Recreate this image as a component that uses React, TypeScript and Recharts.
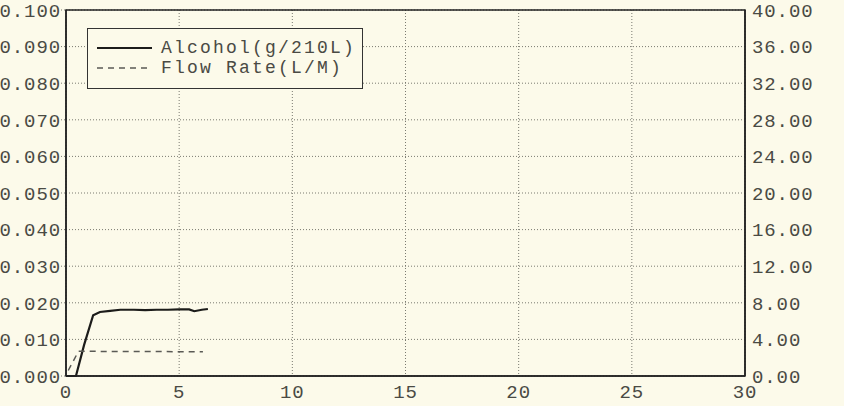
import React from 'react';
import { LineChart, Line, XAxis, YAxis, CartesianGrid, ReferenceArea, Legend } from 'recharts';

const alcoholX = [0, 0.44, 0.8, 1.2, 1.5, 1.95, 2.4, 3.0, 3.5, 4.0, 4.5, 5.0, 5.44, 5.67, 6.0, 6.27];
const alcoholY = [0, 0, 0.0085, 0.0166, 0.0175, 0.0178, 0.0181, 0.0181, 0.018, 0.0181, 0.0181, 0.0182, 0.0182, 0.0177, 0.0181, 0.0183];
const flowX = [0.1, 0.55, 6.05];
const flowY = [0.6, 2.7, 2.65];
const xTicks = [0, 5, 10, 15, 20, 25, 30];
const leftTicks = [0, 0.01, 0.02, 0.03, 0.04, 0.05, 0.06, 0.07, 0.08, 0.09, 0.1];
const rightTicks = [0, 4, 8, 12, 16, 20, 24, 28, 32, 36, 40];

const alcoholData = alcoholX.map((x, i) => ({ x, alcohol: alcoholY[i] }));
const flowData = flowX.map((x, i) => ({ x, flow: flowY[i] }));

const FONT = '"Liberation Mono", "DejaVu Sans Mono", monospace';
const TXT = '#4a4a44';
const tickStyle = { fontFamily: FONT, fontSize: 19, fill: TXT, letterSpacing: 0.9 };

const LegendBox = (props: any) => {
  const items = props.payload || [];
  return (
    <div style={{ position: 'absolute', left: 0, top: 0, width: 276, height: 61, border: '1.5px solid #333', background: '#fcfaea', boxSizing: 'border-box' }}>
      {items.map((it: any, i: number) => (
        <div key={i} style={{ position: 'absolute', left: 9, top: 9 + i * 20, height: 20, display: 'flex', alignItems: 'center' }}>
          <svg width={56} height={20} style={{ display: 'block' }}>
            <line x1={0} x2={55} y1={10} y2={10} stroke={it.color} strokeWidth={it.dataKey === 'alcohol' ? 2 : 1.4} strokeDasharray={it.dataKey === 'alcohol' ? undefined : '6 5'} />
          </svg>
          <span style={{ fontFamily: FONT, fontSize: 18, color: TXT, letterSpacing: 2.2, marginLeft: 8, lineHeight: '18px', whiteSpace: 'nowrap' }}>{it.value}</span>
        </div>
      ))}
    </div>
  );
};

export default function App() {
  return (
    <div style={{ position: 'absolute', left: 0, top: 0, width: 844, height: 406, background: '#fcfaea', overflow: 'hidden' }}>
      <LineChart width={844} height={406} margin={{ top: 10, right: 0, left: 0, bottom: 0 }}>
        <CartesianGrid yAxisId="left" stroke="#7a7a70" strokeDasharray="1 2" strokeWidth={1} />
        <XAxis dataKey="x" type="number" domain={[0, 30]} ticks={xTicks} allowDuplicatedCategory={false}
          height={30} tickLine={false} axisLine={{ stroke: '#222', strokeWidth: 1.5 }} tick={tickStyle} tickSize={5} tickMargin={4} interval={0} />
        <YAxis yAxisId="left" orientation="left" domain={[0, 0.1]} ticks={leftTicks} width={66} interval={0}
          tickFormatter={(v: number) => v.toFixed(3)} tick={tickStyle}
          tickLine={{ stroke: '#7a7a70', strokeDasharray: '1 2' }} tickSize={5} tickMargin={0}
          axisLine={{ stroke: '#222', strokeWidth: 1.5 }} />
        <YAxis yAxisId="right" orientation="right" domain={[0, 40]} ticks={rightTicks} width={99} interval={0}
          tickFormatter={(v: number) => v.toFixed(2)} tick={tickStyle}
          tickLine={false} tickSize={5} tickMargin={2}
          axisLine={{ stroke: '#222', strokeWidth: 1.5 }} />
        <ReferenceArea yAxisId="left" x1={0} x2={30} y1={0} y2={0.1} fill="none" stroke="#222" strokeWidth={1.5} />
        <Legend content={<LegendBox />} wrapperStyle={{ position: 'absolute', left: 87, top: 28, width: 0, height: 0, overflow: 'visible' }} />
        <Line yAxisId="left" data={alcoholData} dataKey="alcohol" name="Alcohol(g/210L)" type="linear"
          stroke="#1c1c1a" strokeWidth={2.2} dot={false} isAnimationActive={false} />
        <Line yAxisId="right" data={flowData} dataKey="flow" name="Flow Rate(L/M)" type="linear"
          stroke="#5a5a55" strokeWidth={1.5} strokeDasharray="6 5" dot={false} isAnimationActive={false} />
      </LineChart>
    </div>
  );
}
